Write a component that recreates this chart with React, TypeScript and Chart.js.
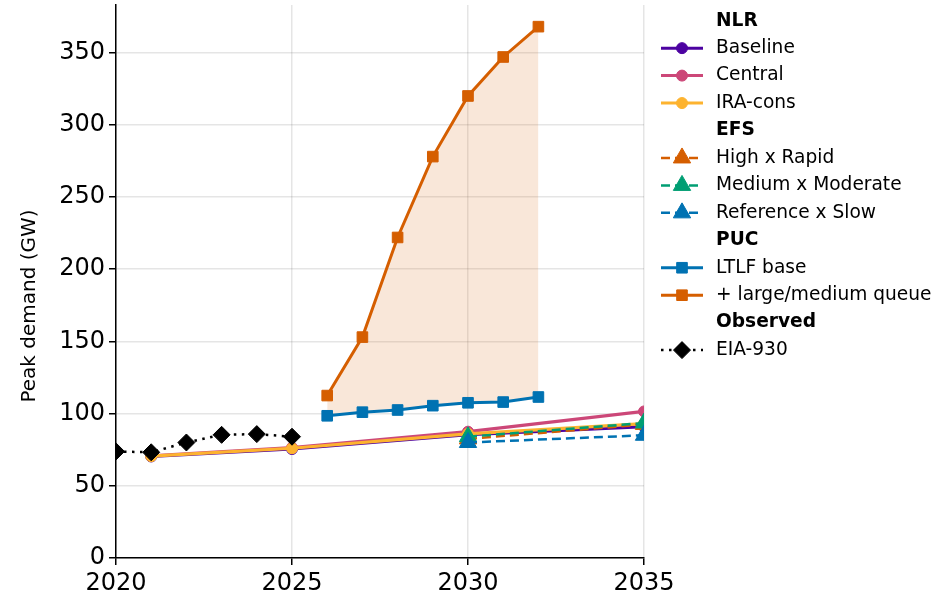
import React, { useEffect, useRef } from 'react';
import { Chart, registerables } from 'chart.js';

Chart.register(...registerables);

// ---------- data ----------
const obsYears = [2020, 2021, 2022, 2023, 2024, 2025];
const obsPeak = [73.8, 73.2, 80.0, 85.3, 85.8, 84.0];

const nlrYears = [2021, 2025, 2030, 2035];
const nlrBaseline = [70.3, 75.5, 85.5, 91.0];
const nlrCentral = [70.8, 76.5, 87.5, 101.5];
const nlrIraCons = [70.5, 76.0, 86.0, 93.0];

const efsYears = [2030, 2035];
const efsHighRapid = [82.5, 92.5];
const efsMediumModerate = [84.0, 93.5];
const efsReferenceSlow = [80.0, 85.0];

const pucYears = [2026, 2027, 2028, 2029, 2030, 2031, 2032];
const pucLtlfBase = [98.5, 101.0, 102.5, 105.5, 107.5, 108.0, 111.5];
const pucQueue = [112.5, 153.0, 222.0, 278.0, 320.0, 347.0, 368.0];

const xTicks = [2020, 2025, 2030, 2035];
const yTicks = [0, 50, 100, 150, 200, 250, 300, 350];
const yTitle = 'Peak demand (GW)';

// ---------- styles ----------
const C_BASE = '#4C02A1';
const C_CENTRAL = '#CC4778';
const C_IRA = '#FDB32F';
const C_HIGH = '#D55E00';
const C_MED = '#009E73';
const C_REF = '#0072B2';
const C_LTLF = '#0072B2';
const C_QUEUE = '#D55E00';
const C_OBS = '#000000';

const FONT = '"DejaVu Sans", sans-serif';
const DASH = [9, 5];
const DOT = [2.5, 5.5];

const toXY = (xs: number[], ys: number[]) => xs.map((x, i) => ({ x, y: ys[i] }));

type LegendEntry =
  | { header: string }
  | { label: string; color: string; dash: number[]; marker: string; width: number };

const LEGEND: LegendEntry[] = [
  { header: 'NLR' },
  { label: 'Baseline', color: C_BASE, dash: [], marker: 'circle', width: 3 },
  { label: 'Central', color: C_CENTRAL, dash: [], marker: 'circle', width: 3 },
  { label: 'IRA-cons', color: C_IRA, dash: [], marker: 'circle', width: 3 },
  { header: 'EFS' },
  { label: 'High x Rapid', color: C_HIGH, dash: DASH, marker: 'triangle', width: 2.5 },
  { label: 'Medium x Moderate', color: C_MED, dash: DASH, marker: 'triangle', width: 2.5 },
  { label: 'Reference x Slow', color: C_REF, dash: DASH, marker: 'triangle', width: 2.5 },
  { header: 'PUC' },
  { label: 'LTLF base', color: C_LTLF, dash: [], marker: 'rect', width: 3 },
  { label: '+ large/medium queue', color: C_QUEUE, dash: [], marker: 'rect', width: 3 },
  { header: 'Observed' },
  { label: 'EIA-930', color: C_OBS, dash: DOT, marker: 'rectRot', width: 2.5 },
];

const MARKER_R: Record<string, number> = { circle: 5.5, triangle: 10, rect: 7.5, rectRot: 8.5 };

function drawMarker(ctx: CanvasRenderingContext2D, kind: string, x: number, y: number, color: string) {
  const r = MARKER_R[kind];
  ctx.save();
  ctx.setLineDash([]);
  ctx.fillStyle = color;
  ctx.strokeStyle = color;
  ctx.lineWidth = 1;
  ctx.beginPath();
  if (kind === 'circle') {
    ctx.arc(x, y, r, 0, Math.PI * 2);
  } else if (kind === 'triangle') {
    ctx.moveTo(x, y - r);
    ctx.lineTo(x + r * 0.866, y + r / 2);
    ctx.lineTo(x - r * 0.866, y + r / 2);
    ctx.closePath();
  } else if (kind === 'rect') {
    const s = r * Math.SQRT1_2;
    ctx.rect(x - s, y - s, 2 * s, 2 * s);
  } else {
    ctx.moveTo(x, y - r);
    ctx.lineTo(x + r, y);
    ctx.lineTo(x, y + r);
    ctx.lineTo(x - r, y);
    ctx.closePath();
  }
  ctx.fill();
  ctx.stroke();
  ctx.restore();
}

const legendPlugin = {
  id: 'groupedLegend',
  afterDraw(chart: any) {
    const ctx: CanvasRenderingContext2D = chart.ctx;
    ctx.save();
    // y axis title (placed like the reference, slightly below the axis centre)
    ctx.save();
    ctx.translate(30, 306);
    ctx.rotate(-Math.PI / 2);
    ctx.textAlign = 'center';
    ctx.textBaseline = 'middle';
    ctx.fillStyle = '#000';
    ctx.font = `20px ${FONT}`;
    ctx.fillText(yTitle, 0, 0);
    ctx.restore();

    const x0 = 661, x1 = 703, mx = 682, tx = 716;
    LEGEND.forEach((it, i) => {
      const y = 20.7 + i * 27.45;
      ctx.textBaseline = 'middle';
      ctx.textAlign = 'left';
      ctx.fillStyle = '#000';
      if ('header' in it) {
        ctx.font = `bold 18.6px ${FONT}`;
        ctx.fillText(it.header, tx, y);
        return;
      }
      ctx.font = `18.6px ${FONT}`;
      ctx.fillText(it.label, tx, y);
      ctx.strokeStyle = it.color;
      ctx.lineWidth = it.width;
      ctx.setLineDash(it.dash);
      ctx.beginPath();
      ctx.moveTo(x0, y);
      ctx.lineTo(x1, y);
      ctx.stroke();
      ctx.setLineDash([]);
      drawMarker(ctx, it.marker, mx, y, it.color);
    });
    ctx.restore();
  },
};

function ds(label: string, xs: number[], ys: number[], color: string, marker: string, dash: number[], width: number, extra: any = {}) {
  return {
    label,
    data: toXY(xs, ys),
    borderColor: color,
    backgroundColor: color,
    borderWidth: width,
    borderDash: dash,
    pointStyle: marker,
    pointRadius: MARKER_R[marker],
    pointBackgroundColor: color,
    pointBorderColor: color,
    pointBorderWidth: 1,
    fill: false,
    tension: 0,
    clip: 0,
    ...extra,
  };
}

export default function App() {
  const ref = useRef<HTMLCanvasElement>(null);
  useEffect(() => {
    if (!ref.current) return;
    const chart = new Chart(ref.current, {
      type: 'line',
      data: {
        datasets: [
          ds('EIA-930', obsYears, obsPeak, C_OBS, 'rectRot', DOT, 2.5),
          ds('+ large/medium queue', pucYears, pucQueue, C_QUEUE, 'rect', [], 3, {
            fill: { target: '+1', above: 'rgba(213,94,0,0.15)', below: 'rgba(213,94,0,0.15)' },
          }),
          ds('LTLF base', pucYears, pucLtlfBase, C_LTLF, 'rect', [], 3),
          ds('Reference x Slow', efsYears, efsReferenceSlow, C_REF, 'triangle', DASH, 2.5),
          ds('Medium x Moderate', efsYears, efsMediumModerate, C_MED, 'triangle', DASH, 2.5),
          ds('High x Rapid', efsYears, efsHighRapid, C_HIGH, 'triangle', DASH, 2.5),
          ds('IRA-cons', nlrYears, nlrIraCons, C_IRA, 'circle', [], 3.2),
          ds('Central', nlrYears, nlrCentral, C_CENTRAL, 'circle', [], 3.2),
          ds('Baseline', nlrYears, nlrBaseline, C_BASE, 'circle', [], 3.2),
        ] as any,
      },
      options: {
        responsive: false,
        animation: false,
        events: [],
        layout: { autoPadding: false, padding: { left: 0, right: 299, top: 5, bottom: 0 } },
        plugins: {
          legend: { display: false },
          tooltip: { enabled: false },
          filler: { drawTime: 'beforeDatasetsDraw' } as any,
        },
        scales: {
          x: {
            type: 'linear',
            min: 2020,
            max: 2035,
            afterBuildTicks: (s: any) => {
              s.ticks = xTicks.map((v) => ({ value: v }));
            },
            ticks: {
              callback: (v: any) => String(v),
              font: { size: 24, family: FONT },
              color: '#000',
              padding: 4,
              maxRotation: 0,
              autoSkip: false,
            },
            grid: {
              color: 'rgba(0,0,0,0.1)',
              lineWidth: 1.5,
              drawTicks: true,
              tickLength: 7,
              tickColor: '#000',
              tickWidth: 1.5,
            },
            border: { display: true, color: '#000', width: 1.5 },
            afterFit: (s: any) => {
              s.height = 40;
              s.paddingLeft = 0;
              s.paddingRight = 0;
            },
          } as any,
          y: {
            type: 'linear',
            min: 0,
            max: 383,
            afterBuildTicks: (s: any) => {
              s.ticks = yTicks.map((v) => ({ value: v }));
            },
            ticks: {
              callback: (v: any) => String(v),
              font: { size: 24, family: FONT },
              color: '#000',
              padding: 4,
            },
            grid: {
              color: 'rgba(0,0,0,0.1)',
              lineWidth: 1.5,
              drawTicks: true,
              tickLength: 7,
              tickColor: '#000',
              tickWidth: 1.5,
            },
            border: { display: true, color: '#000', width: 1.5 },
            title: { display: false },
            afterFit: (s: any) => {
              s.width = 116;
              s.paddingTop = 0;
              s.paddingBottom = 0;
            },
          } as any,
        },
      },
      plugins: [legendPlugin],
    });
    return () => chart.destroy();
  }, []);

  return (
    <div style={{ position: 'absolute', left: 0, top: 0, width: 943, height: 598, background: '#fff' }}>
      <canvas ref={ref} width={943} height={598} style={{ display: 'block', width: 943, height: 598 }} />
    </div>
  );
}
